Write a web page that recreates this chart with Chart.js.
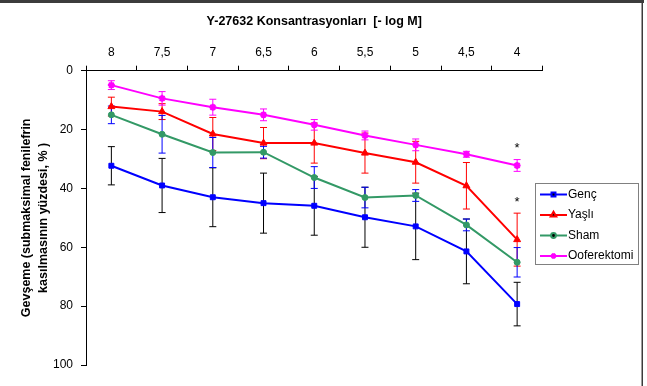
<!DOCTYPE html>
<html>
<head>
<meta charset="utf-8">
<script src="https://cdn.jsdelivr.net/npm/chart.js@4/dist/chart.umd.min.js"></script>
<style>
  html, body { margin: 0; padding: 0; background: #fff; }
  #wrap { width: 647px; height: 386px; position: relative; }
</style>
</head>
<body>
<div id="wrap"><canvas id="relaxChart" width="647" height="386"></canvas></div>
<script>
// ---------- data ----------
const concentrations = ['8', '7,5', '7', '6,5', '6', '5,5', '5', '4,5', '4'];
const seriesNames = ['Genç', 'Yaşlı', 'Sham', 'Ooferektomi'];

const gencValues = [32.3, 39.0, 43.0, 45.0, 45.9, 49.8, 52.9, 61.4, 79.3];
const gencErrors = [6.5, 9.2, 10.0, 10.2, 10.0, 10.2, 11.3, 11.0, 7.4];

const yasliValues = [12.2, 13.9, 21.5, 24.6, 24.6, 28.0, 31.1, 39.1, 57.4];
const yasliErrors = [3.2, 2.7, 5.6, 5.3, 6.8, 6.8, 7.1, 7.9, 9.0];

const shamValues = [15.0, 21.6, 27.8, 27.7, 36.3, 43.1, 42.4, 52.4, 65.1];
const shamErrors = [3.0, 6.4, 5.1, 2.0, 3.7, 3.5, 2.0, 2.0, 5.0];

const oofValues = [4.9, 9.4, 12.4, 15.0, 18.4, 22.0, 25.2, 28.4, 32.2];
const oofErrors = [1.5, 2.3, 2.7, 2.0, 1.8, 1.5, 2.0, 1.0, 2.0];

const yTicks = [0, 20, 40, 60, 80, 100];

// significance marks: [category, value]
const starMarks = [['4', 25.3], ['4', 43.8]];

// ---------- styling ----------
const FONT = 'Liberation Sans, Arial, sans-serif';
const lineColors = ['#0000FF', '#FF0000', '#339966', '#FF00FF'];
const errColors  = ['#000000', '#FF0000', '#0000FF', '#FF00FF'];
const markers    = ['rect', 'triangle', 'circle', 'star'];
const markerSize = [3.5, 4, 3, 3.5];
const allErrors  = [gencErrors, yasliErrors, shamErrors, oofErrors];

// ---------- plugins ----------
const frame = {
  id: 'frame',
  beforeDraw(chart) {
    const c = chart.ctx;
    c.save();
    c.fillStyle = '#fff';
    c.fillRect(0, 0, chart.width, chart.height);
    c.fillStyle = '#3c3c3c';
    c.fillRect(0, 0, 644, 3);
    c.fillRect(641.5, 0, 1.5, chart.height);
    c.restore();
  }
};

// error bars drawn under the lines
const errorBars = {
  id: 'errorBars',
  beforeDatasetsDraw(chart) {
    const c = chart.ctx;
    const x = chart.scales.x, y = chart.scales.y;
    c.save();
    c.lineWidth = 1;
    chart.data.datasets.forEach((ds, i) => {
      const errs = allErrors[i];
      c.strokeStyle = errColors[i];
      ds.data.forEach((v, j) => {
        const px = x.getPixelForValue(j);
        const top = y.getPixelForValue(v - errs[j]);
        const bot = y.getPixelForValue(v + errs[j]);
        c.beginPath();
        c.moveTo(px, top); c.lineTo(px, bot);
        c.moveTo(px - 3.5, top); c.lineTo(px + 3.5, top);
        c.moveTo(px - 3.5, bot); c.lineTo(px + 3.5, bot);
        c.stroke();
      });
    });
    c.restore();
  }
};

const stars = {
  id: 'stars',
  afterDatasetsDraw(chart) {
    const c = chart.ctx;
    const x = chart.scales.x, y = chart.scales.y;
    c.save();
    c.fillStyle = '#000';
    c.font = '13px ' + FONT;
    c.textAlign = 'center';
    c.textBaseline = 'middle';
    starMarks.forEach(([cat, v]) => {
      c.fillText('*', x.getPixelForValue(concentrations.indexOf(cat)), y.getPixelForValue(v) + 3);
    });
    c.restore();
  }
};

// boxed legend to the right of the plot
const boxLegend = {
  id: 'boxLegend',
  afterDraw(chart) {
    const c = chart.ctx;
    const bx = 535, by = 183, bw = 103, bh = 81;
    c.save();
    c.strokeStyle = '#808080';
    c.lineWidth = 1;
    c.strokeRect(bx + 0.5, by + 0.5, bw, bh);
    c.font = '12px ' + FONT;
    c.textBaseline = 'middle';
    c.textAlign = 'left';
    chart.data.datasets.forEach((ds, i) => {
      const ly = by + 11.5 + i * 20.5;
      c.strokeStyle = ds.borderColor;
      c.lineWidth = 2;
      c.beginPath();
      c.moveTo(bx + 5, ly); c.lineTo(bx + 32, ly);
      c.stroke();
      Chart.helpers.drawPoint(c, {
        pointStyle: ds.pointStyle, radius: ds.pointRadius * 0.8, rotation: 0, borderWidth: 1.5
      }, bx + 18.5, ly);
      c.fillStyle = '#000';
      c.fillText(ds.label, bx + 33, ly);
    });
    c.restore();
  }
};

// ---------- chart ----------
const seriesValues = [gencValues, yasliValues, shamValues, oofValues];
const datasets = seriesNames.map((name, i) => ({
  label: name,
  data: seriesValues[i],
  borderColor: lineColors[i],
  backgroundColor: lineColors[i],
  pointBackgroundColor: lineColors[i],
  pointBorderColor: lineColors[i],
  borderWidth: 2,
  pointStyle: markers[i],
  pointRadius: markerSize[i],
  pointBorderWidth: i === 3 ? 2 : 1,
  tension: 0
}));

new Chart(document.getElementById('relaxChart'), {
  type: 'line',
  data: { labels: concentrations, datasets },
  options: {
    responsive: false,
    animation: false,
    layout: { padding: { left: 0, top: 0, right: 104.5, bottom: 21 } },
    plugins: {
      legend: { display: false },
      tooltip: { enabled: false }
    },
    scales: {
      x: {
        type: 'category',
        position: 'top',
        offset: true,
        afterFit(scale) { scale.height = 70.7; },
        grid: { drawOnChartArea: false, tickLength: 5, color: '#000', offset: true },
        border: { color: '#000', width: 1 },
        ticks: { color: '#000', font: { family: FONT, size: 12 }, padding: 6, maxRotation: 0 },
        title: {
          display: true,
          text: 'Y-27632 Konsantrasyonları  [- log M]',
          color: '#000',
          font: { family: FONT, size: 12.5, weight: 'bold' },
          padding: { top: 14, bottom: 0 }
        }
      },
      y: {
        reverse: true,
        min: 0,
        max: 100,
        afterFit(scale) { scale.width = 86; },
        afterBuildTicks(scale) { scale.ticks = yTicks.map(v => ({ value: v })); },
        grid: { drawOnChartArea: false, tickLength: 5, color: '#000' },
        border: { color: '#000', width: 1 },
        ticks: { color: '#000', font: { family: FONT, size: 12 }, padding: 8 },
        title: {
          display: true,
          text: ['Gevşeme (submaksimal fenilefrin', 'kasılmasının yüzdesi, % )'],
          color: '#000',
          font: { family: FONT, size: 12.5, weight: 'bold', lineHeight: 1.33 },
          padding: { top: 18.5, bottom: 0 }
        }
      }
    }
  },
  plugins: [frame, errorBars, stars, boxLegend]
});
</script>
</body>
</html>
